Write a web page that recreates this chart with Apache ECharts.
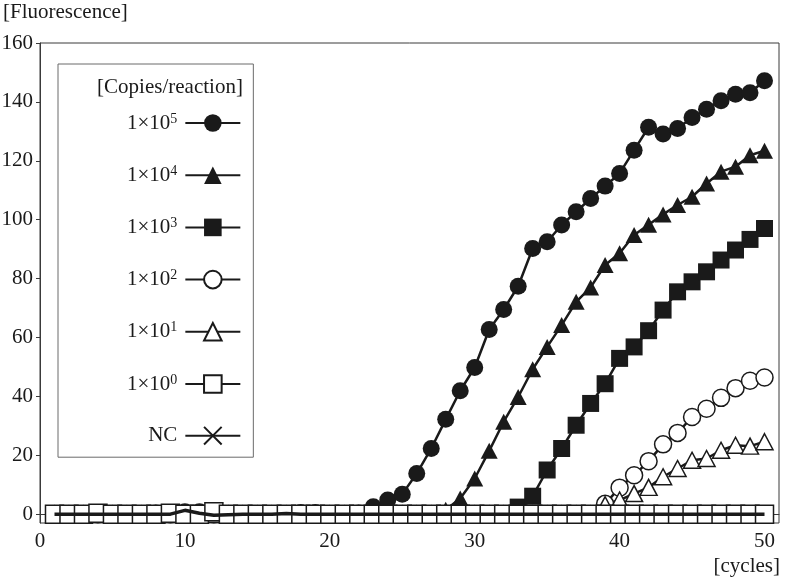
<!DOCTYPE html>
<html>
<head>
<meta charset="utf-8">
<script src="https://cdn.jsdelivr.net/npm/echarts@6/dist/echarts.min.js"></script>
<style>
html,body{margin:0;padding:0;background:#fff;}
#chart{width:787px;height:580px;}
</style>
</head>
<body>
<div id="chart"></div>
<script>
const cycles = [1,2,3,4,5,6,7,8,9,10,11,12,13,14,15,16,17,18,19,20,21,22,23,24,25,26,27,28,29,30,31,32,33,34,35,36,37,38,39,40,41,42,43,44,45,46,47,48,49,50];

const copies1e5 = [0,0,0,0.3,0,0,0.2,0.4,0,0.8,0.8,0,0,0,0,0,0,0.6,0.6,0,0,0.4,2.5,4.8,6.8,13.8,22.3,32.2,41.9,49.8,62.7,69.5,77.4,90.2,92.5,98.2,102.7,107.2,111.4,115.7,123.6,131.4,129.1,131.0,134.7,137.5,140.4,142.6,143.1,147.2];
const copies1e4 = [0,0,0,0,0,0,0,0.5,0,0,0,0,0,0,0,0,0,0,0,0,0,0,0,0,0,0,0,1.5,5.3,12.1,21.5,31.4,39.8,49.2,56.8,64.2,72.1,77.0,84.6,88.6,94.8,98.3,101.8,105.0,107.8,112.3,116.3,118.0,121.9,123.4];
const copies1e3 = [0,0,0,0,0,0,0,0,0,0,0,0,0,0,0,0,0,0,0,0,0,0,0,0,0,0,0,0,0,0,0,0,2.4,6.1,15.0,22.3,30.2,37.6,44.3,52.9,56.8,62.3,69.3,75.5,78.9,82.3,86.3,89.7,93.3,97.0];
const copies1e2 = [0,0,0,0,0,0,0,0,0,0,0,0,0,0,0,0,0,0,0,0,0,0,0,0,0,0,0,0,0,0,0,0,0,0,0,0,0,0,3.5,9.0,13.2,18.0,23.7,27.6,33.0,35.8,39.5,42.8,45.3,46.4];
const copies1e1 = [0,0,0,0,0,0,0,0,0,0,0,0,0,0,0,0,0,0,0,0,0,0,0,0,0,0,0,0,0,0,0,0,0,0,0,0,0,0,3.2,4.8,7.0,9.1,12.7,15.5,18.3,18.9,21.7,23.4,23.1,24.6];
const copies1e0 = [0,0,0,0.3,0,0,0,0,0.3,0,0,0.8,0,0,0,0,0,0,0,0,0,0,0,0,0,0,0,0,0,0,0,0,0,0,0,0,0,0,0,0,0,0,0,0,0,0,0,0,0,0];
const negControl = [0,0,0,0,0,0,0,0,0,1.3,0.3,-0.4,-0.2,0,0,0,0.2,0,0,0,0,0,0,0,0,0,0,0,0,0,0,0,0,0,0,0,0,0,0,0,0,0,0,0,0,0,0,0,0,0];

const seriesNames = ['1×10^5','1×10^4','1×10^3','1×10^2','1×10^1','1×10^0','NC'];
const xTicks = [0,10,20,30,40,50];
const yTicks = [0,20,40,60,80,100,120,140,160];

const FONT = 'Liberation Serif';
const INK = '#1a1a1a';

function pairs(vals){ return cycles.map((c,i)=>[c, vals[i]]); }

function mk(name, vals, symbol, filled, size){
  return {
    name: name,
    type: 'line',
    z: 2,
    data: pairs(vals),
    symbol: symbol,
    symbolSize: size,
    showSymbol: true,
    lineStyle: {color: INK, width: 2.5},
    itemStyle: filled ? {color: INK, borderColor: INK, borderWidth: 0}
                      : {color: '#ffffff', borderColor: INK, borderWidth: 1.5},
    emphasis: {disabled: true},
    animation: false
  };
}

const series = [
  mk(seriesNames[0], copies1e5, 'circle', true, 17),
  mk(seriesNames[1], copies1e4, 'triangle', true, [17,16]),
  mk(seriesNames[2], copies1e3, 'rect', true, 17),
  mk(seriesNames[3], copies1e2, 'circle', false, 17),
  mk(seriesNames[4], copies1e1, 'triangle', false, [17,16]),
  mk(seriesNames[5], copies1e0, 'rect', false, 18),
  {
    name: seriesNames[6],
    type: 'line',
    z: 3,
    data: pairs(negControl),
    symbol: 'path://M0,0L10,10M10,0L0,10',
    symbolSize: 13,
    showSymbol: false,
    lineStyle: {color: INK, width: 3.5},
    itemStyle: {color: 'transparent', borderColor: INK, borderWidth: 1.6},
    emphasis: {disabled: true},
    animation: false
  }
];

const chart = echarts.init(document.getElementById('chart'), null, {renderer: 'canvas'});
chart.setOption({
  animation: false,
  backgroundColor: '#ffffff',
  textStyle: {fontFamily: FONT, color: INK},
  grid: {left: 40, right: 8, top: 43, bottom: 57, containLabel: false, outerBoundsMode: 'none',
         show: true, borderColor: '#3a3a3a', borderWidth: 1, backgroundColor: 'transparent'},
  xAxis: {
    type: 'value', min: 0, max: 51,
    axisLine: {show: true, lineStyle: {color: '#3a3a3a', width: 1}},
    axisTick: {show: false},
    splitLine: {show: false},
    axisLabel: {customValues: xTicks, fontFamily: FONT, fontSize: 21, color: INK, margin: 8}
  },
  yAxis: {
    type: 'value', min: -3, max: 160,
    axisLine: {show: true, lineStyle: {color: '#3a3a3a', width: 1}},
    axisTick: {show: true, customValues: yTicks, length: 4, lineStyle: {color: '#3a3a3a'}},
    splitLine: {show: false},
    axisLabel: {customValues: yTicks, fontFamily: FONT, fontSize: 21, color: INK, margin: 7}
  },
  legend: {
    orient: 'vertical',
    align: 'right',
    left: 58,
    top: 64,
    z: 10,
    padding: [48, 12, 11, 69],
    itemGap: 30.7,
    itemWidth: 55,
    itemHeight: 22,
    borderColor: '#6a6a6a',
    borderWidth: 1,
    backgroundColor: '#ffffff',
    selectedMode: false,
    data: seriesNames,
    formatter: function(n){
      const m = n.match(/^(1×10)\^(\d)$/);
      return m ? '{b|' + m[1] + '}{sup|' + m[2] + '}' : '{b|' + n + '}';
    },
    textStyle: {
      fontFamily: FONT, fontSize: 21, color: INK, padding: [0, 3, 0, 0],
      rich: {
        b: {fontFamily: FONT, fontSize: 21, color: INK, lineHeight: 22},
        sup: {fontFamily: FONT, fontSize: 14, color: INK, lineHeight: 15, verticalAlign: 'top'}
      }
    }
  },
  graphic: [
    {type: 'text', left: 3, top: 2, z: 10,
     style: {text: '[Fluorescence]', font: '21px "' + FONT + '"', fill: INK}},
    {type: 'text', right: 7, top: 556, z: 10,
     style: {text: '[cycles]', font: '21px "' + FONT + '"', fill: INK}},
    {type: 'text', x: 170, y: 87, z: 20,
     style: {text: '[Copies/reaction]', font: '21px "' + FONT + '"', fill: INK, align: 'center', verticalAlign: 'middle'}}
  ],
  series: series
});
</script>
</body>
</html>
